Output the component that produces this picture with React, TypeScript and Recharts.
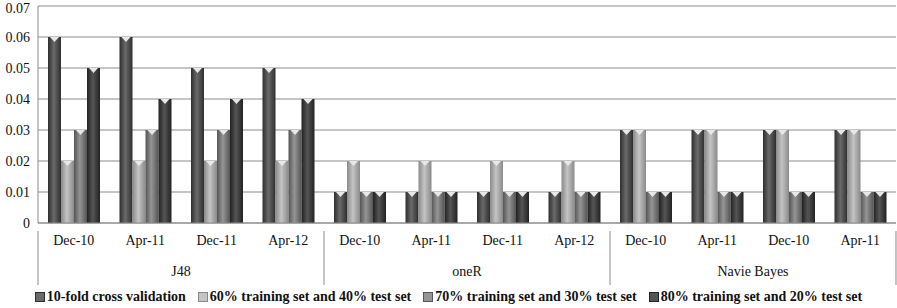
import React from "react";
import { BarChart, Bar, XAxis, YAxis, CartesianGrid } from "recharts";

const dates = ["Dec-10", "Apr-11", "Dec-11", "Apr-12", "Dec-10", "Apr-11", "Dec-11", "Apr-12", "Dec-10", "Apr-11", "Dec-10", "Apr-11"];
const groups = ["J48", "J48", "J48", "J48", "oneR", "oneR", "oneR", "oneR", "Navie Bayes", "Navie Bayes", "Navie Bayes", "Navie Bayes"];
const crossVal = [0.06, 0.06, 0.05, 0.05, 0.01, 0.01, 0.01, 0.01, 0.03, 0.03, 0.03, 0.03];
const split60 = [0.02, 0.02, 0.02, 0.02, 0.02, 0.02, 0.02, 0.02, 0.03, 0.03, 0.03, 0.03];
const split70 = [0.03, 0.03, 0.03, 0.03, 0.01, 0.01, 0.01, 0.01, 0.01, 0.01, 0.01, 0.01];
const split80 = [0.05, 0.04, 0.04, 0.04, 0.01, 0.01, 0.01, 0.01, 0.01, 0.01, 0.01, 0.01];
const yTicks = [0, 0.01, 0.02, 0.03, 0.04, 0.05, 0.06, 0.07];

const series = [
  { key: "s1", name: "10-fold cross validation", values: crossVal, edge: "#2e2e2e", mid: "#6a6a6a" },
  { key: "s2", name: "60% training set and 40% test set", values: split60, edge: "#8a8a8a", mid: "#c4c4c4" },
  { key: "s3", name: "70% training set and 30% test set", values: split70, edge: "#555555", mid: "#959595" },
  { key: "s4", name: "80% training set and 20% test set", values: split80, edge: "#222222", mid: "#555555" },
];

const data = dates.map((d, i) => {
  const row: any = { date: d, group: groups[i] };
  series.forEach((s) => (row[s.key] = s.values[i]));
  return row;
});

const FONT = "Liberation Serif, Times New Roman, DejaVu Serif, serif";
const PLOT_W = 858;
const BAND = PLOT_W / dates.length;

const CylBar = (props: any) => {
  const { x, y, width, height, gid } = props;
  if (!height || height <= 0) return null;
  const cap = Math.min(5, height);
  return (
    <g>
      <rect x={x} y={y} width={width} height={height} fill={`url(#${gid})`} />
      <path
        d={`M${x + 2},${y} L${x + width - 2},${y} L${x + width / 2},${y + cap} Z`}
        fill="#e8e8e8"
      />
    </g>
  );
};

const GroupTick = (props: any) => {
  const { x, y, index } = props;
  const left = x - BAND / 2;
  const out: React.ReactNode[] = [];
  if (index % 4 === 0) {
    out.push(<line key="l" x1={left} x2={left} y1={y - 30} y2={y + 24} stroke="#8c8c8c" />);
  }
  if (index === dates.length - 1) {
    out.push(<line key="r" x1={x + BAND / 2} x2={x + BAND / 2} y1={y - 30} y2={y + 24} stroke="#8c8c8c" />);
  }
  if (index % 4 === 1) {
    out.push(
      <text key="t" x={x + BAND / 2} y={y + 15} textAnchor="middle" fontSize={14} style={{ fontFamily: FONT }} fill="#111">
        {groups[index]}
      </text>
    );
  }
  return <g>{out}</g>;
};

const LegendRow = () => (
  <div
    style={{
      position: "absolute",
      left: 0,
      top: 289,
      width: 897,
      textAlign: "center",
      fontFamily: FONT,
      fontWeight: "bold",
      fontSize: 14,
      color: "#111",
      whiteSpace: "nowrap",
    }}
  >
    {series.map((s, i) => (
      <span key={s.key} style={{ marginRight: i < series.length - 1 ? 12 : 0 }}>
        <span
          style={{
            display: "inline-block",
            width: 8,
            height: 8,
            marginRight: 2,
            background: s.mid,
            border: `1px solid ${s.edge}`,
            verticalAlign: "middle",
            position: "relative",
            top: -1,
          }}
        />
        {s.name}
      </span>
    ))}
  </div>
);

const tickStyle = { fontSize: 14, fill: "#111", style: { fontFamily: FONT } };

export default function App() {
  return (
    <div style={{ position: "absolute", left: 0, top: 0, width: 897, height: 308, fontFamily: FONT }}>
      <BarChart
        width={897}
        height={308}
        data={data}
        margin={{ top: 6, right: 1, left: 0, bottom: 25 }}
        barGap={0}
        barSize={13}
      >
        <defs>
          {series.map((s) => (
            <linearGradient key={s.key} id={`g-${s.key}`} x1="0" y1="0" x2="1" y2="0">
              <stop offset="0%" stopColor={s.edge} />
              <stop offset="45%" stopColor={s.mid} />
              <stop offset="100%" stopColor={s.edge} />
            </linearGradient>
          ))}
        </defs>
        <CartesianGrid vertical={false} stroke="#8c8c8c" />
        <YAxis
          domain={[0, 0.07]}
          ticks={yTicks}
          width={38}
          tickSize={0}
          tickMargin={8}
          axisLine={{ stroke: "#8c8c8c" }}
          tickLine={false}
          tick={tickStyle}
        />
        <XAxis
          dataKey="date"
          xAxisId={0}
          interval={0}
          height={30}
          tickSize={0}
          tickMargin={12}
          tickLine={false}
          axisLine={{ stroke: "#8c8c8c" }}
          tick={tickStyle}
        />
        <XAxis
          dataKey="group"
          xAxisId="g"
          interval={0}
          height={30}
          axisLine={false}
          tickLine={false}
          tick={<GroupTick />}
        />
        {series.map((s) => (
          <Bar
            key={s.key}
            dataKey={s.key}
            name={s.name}
            xAxisId={0}
            isAnimationActive={false}
            shape={(p: any) => <CylBar {...p} gid={`g-${s.key}`} />}
          />
        ))}
      </BarChart>
      <LegendRow />
    </div>
  );
}
